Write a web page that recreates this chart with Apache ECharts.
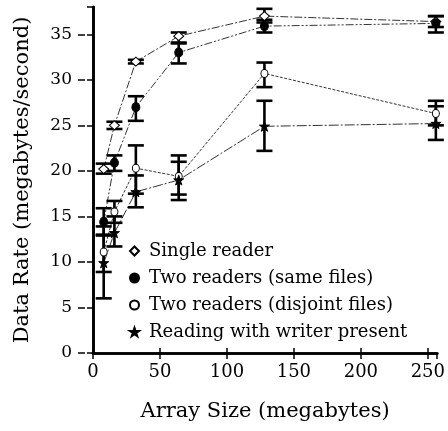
<!DOCTYPE html>
<html>
<head>
<meta charset="utf-8">
<script src="https://cdn.jsdelivr.net/npm/echarts@6/dist/echarts.min.js"></script>
<style>
  html, body { margin: 0; padding: 0; background: #fff; }
  #chart { width: 448px; height: 431px; }
</style>
</head>
<body>
<div id="chart"></div>
<script>
// Array sizes (MB) at which the data rate was measured
const sizes = [8, 16, 32, 64, 128, 256];

// Single reader
const single     = [20.2, 25.0, 32.0, 34.8, 37.0, 36.4];
const singleLow  = [19.7, 24.6, 31.8, 34.1, 36.3, 35.8];
const singleHigh = [20.8, 25.4, 32.2, 35.2, 37.8, 37.0];

// Two readers (same files)
const same     = [14.4, 20.9, 27.0, 33.0, 35.9, 36.2];
const sameLow  = [12.9, 20.0, 25.5, 31.8, 35.2, 35.2];
const sameHigh = [15.9, 21.7, 28.2, 34.0, 36.6, 37.0];

// Two readers (disjoint files)
const disjoint     = [11.1, 15.5, 20.3, 19.4, 30.7, 26.3];
const disjointLow  = [8.9, 14.3, 17.5, 17.4, 29.2, 25.0];
const disjointHigh = [13.0, 16.7, 22.8, 21.7, 31.9, 27.7];

// Reading with writer present
const writer     = [9.9, 13.2, 17.7, 19.0, 24.9, 25.2];
const writerLow  = [6.0, 11.7, 16.0, 16.8, 22.2, 23.4];
const writerHigh = [13.9, 15.0, 19.5, 21.0, 27.7, 27.1];

const xTicks = [0, 50, 100, 150, 200, 250];
const yTicks = [0, 5, 10, 15, 20, 25, 30, 35];

const names = [
  'Single reader',
  'Two readers (same files)',
  'Two readers (disjoint files)',
  'Reading with writer present'
];

const FONT = 'DejaVu Serif';
const STAR = 'path://M50,0 L61.8,35.3 L99,35.3 L69,57.2 L80.4,92.6 L50,70.7 L19.6,92.6 L31,57.2 L1,35.3 L38.2,35.3 Z';

function pairs(ys) { return sizes.map((x, i) => [x, ys[i]]); }
function bars(lo, hi) { return sizes.map((x, i) => [x, lo[i], hi[i]]); }

// Vertical min/max bar with a cap at each end
function errorBarSeries(lo, hi) {
  return {
    type: 'custom',
    clip: false,
    silent: true,
    z: 3,
    data: bars(lo, hi),
    renderItem: function (params, api) {
      const x = api.value(0);
      const top = api.coord([x, api.value(2)]);
      const bot = api.coord([x, api.value(1)]);
      const half = 8;
      const style = { stroke: '#000', lineWidth: 2.6 };
      return {
        type: 'group',
        children: [
          { type: 'line', shape: { x1: top[0], y1: top[1], x2: bot[0], y2: bot[1] }, style: style },
          { type: 'line', shape: { x1: top[0] - half, y1: top[1], x2: top[0] + half, y2: top[1] }, style: style },
          { type: 'line', shape: { x1: bot[0] - half, y1: bot[1], x2: bot[0] + half, y2: bot[1] }, style: style }
        ]
      };
    }
  };
}

function lineSeries(name, ys, symbol, size, fill, dash) {
  return {
    name: name,
    type: 'line',
    data: pairs(ys),
    symbol: symbol,
    symbolSize: size,
    showAllSymbol: true,
    z: 4,
    lineStyle: { color: '#000', width: 0.8, type: dash },
    itemStyle: { color: fill, borderColor: '#000', borderWidth: 1 },
    emphasis: { disabled: true },
    animation: false
  };
}

const frameLine = { show: true, lineStyle: { color: '#000', width: 2.6 } };
const titleText = { color: '#000', fontFamily: FONT, fontSize: 21 };

const chart = echarts.init(document.getElementById('chart'), null, { renderer: 'canvas' });

chart.setOption({
  animation: false,
  backgroundColor: '#fff',
  grid: { left: 93, right: 10, top: 7, bottom: 78 },
  xAxis: [
    {
      type: 'value', position: 'bottom', min: 0, max: 257, interval: 50,
      axisLine: frameLine,
      axisTick: { show: true, inside: true, length: 5, lineStyle: { color: '#000', width: 1.5 } },
      axisLabel: { margin: 10, showMaxLabel: false, color: '#000', fontFamily: FONT, fontSize: 18,
        formatter: v => xTicks.includes(v) ? String(v) : '' },
      splitLine: { show: false },
      name: 'Array Size (megabytes)',
      nameLocation: 'middle', nameGap: 48,
      nameTextStyle: titleText
    },
    {
      type: 'value', position: 'top', min: 0, max: 257, interval: 50,
      axisLine: frameLine,
      axisTick: { show: true, inside: true, length: 6, lineStyle: { color: '#000', width: 1.5 } },
      axisLabel: { show: false },
      splitLine: { show: false }
    }
  ],
  yAxis: [
    {
      type: 'value', position: 'left', min: 0, max: 38, interval: 5,
      axisLine: frameLine,
      axisTick: { show: false },
      axisLabel: { show: false },
      splitLine: { show: false }
    },
    {
      type: 'value', position: 'right', min: 0, max: 38, interval: 5,
      axisLine: frameLine,
      axisTick: { show: true, inside: true, length: 6, lineStyle: { color: '#000', width: 1.5 } },
      axisLabel: { show: false },
      splitLine: { show: false }
    },
    {
      type: 'value', position: 'left', offset: 8, min: 0, max: 38, interval: 5,
      axisLine: { show: false },
      axisTick: { show: true, inside: false, length: 7, lineStyle: { color: '#000', width: 1.5 } },
      axisLabel: { margin: 13, showMaxLabel: false, color: '#000', fontFamily: FONT, fontSize: 17,
        formatter: v => yTicks.includes(v) ? String(v) : '' },
      splitLine: { show: false },
      name: 'Data Rate (megabytes/second)',
      nameLocation: 'middle', nameGap: 52, nameRotate: 90,
      nameTextStyle: titleText
    }
  ],
  legend: {
    orient: 'vertical',
    left: 124, top: 237,
    itemWidth: 9, itemHeight: 9, itemGap: 9,
    selectedMode: false,
    textStyle: { color: '#000', fontFamily: FONT, fontSize: 18, lineHeight: 18, padding: [0, 0, 0, 5] },
    data: [
      { name: names[0], icon: 'diamond' },
      { name: names[1], icon: 'circle' },
      { name: names[2], icon: 'circle' },
      { name: names[3], icon: STAR }
    ]
  },
  series: [
    errorBarSeries(singleLow, singleHigh),
    errorBarSeries(sameLow, sameHigh),
    errorBarSeries(disjointLow, disjointHigh),
    errorBarSeries(writerLow, writerHigh),
    lineSeries(names[0], single, 'diamond', [10, 9], '#fff', [8, 2, 2, 2]),
    lineSeries(names[1], same, 'circle', [8, 9], '#000', [8, 2, 2, 2, 2, 2]),
    lineSeries(names[2], disjoint, 'circle', [7, 8], '#fff', [3, 1.5]),
    lineSeries(names[3], writer, STAR, 10, '#000', [10, 2, 2, 2])
  ]
});
</script>
</body>
</html>
